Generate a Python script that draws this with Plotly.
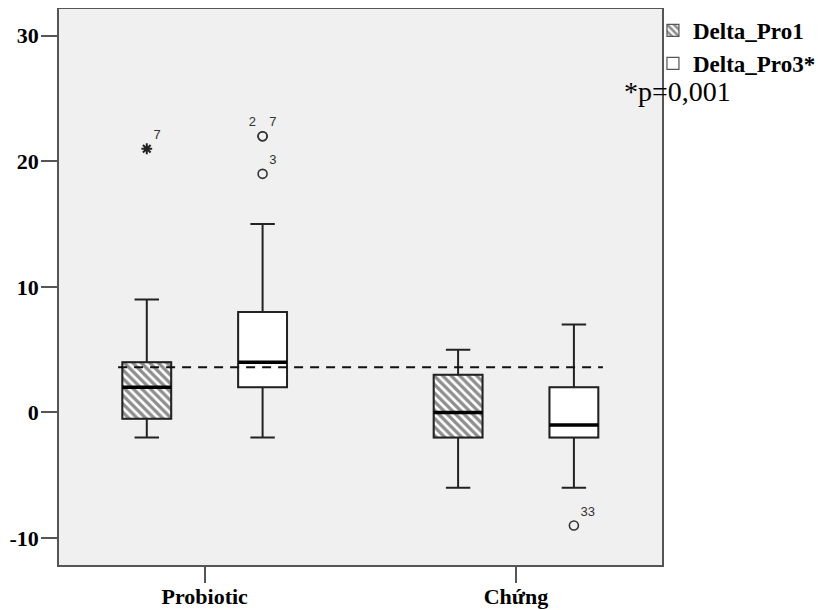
import plotly.graph_objects as go

# ---------------- data ----------------
groups = ["Probiotic", "Chứng"]

pro1_q1 = [-0.5, -2]
pro1_median = [2, 0]
pro1_q3 = [4, 3]
pro1_low = [-2, -6]
pro1_high = [9, 5]

pro3_q1 = [2, -2]
pro3_median = [4, -1]
pro3_q3 = [8, 2]
pro3_low = [-2, -6]
pro3_high = [15, 7]

pro1_out_x = ["Probiotic"]
pro1_out_y = [21]
pro1_out_case = ["7"]

pro3_out_x = ["Probiotic", "Probiotic", "Probiotic", "Chứng"]
pro3_out_y = [22, 22, 19, -9]
pro3_out_case = ["2", "7", "3", "33"]
pro3_out_pos = ["top left", "top right", "top right", "top right"]

ref_value = 3.6
y_ticks = [-10, 0, 10, 20, 30]
y_tick_labels = ["-10", "0", "10", "20", "30"]

series_names = ["Delta_Pro1", "Delta_Pro3*"]
note_text = "*p=0,001"

# ---------------- styling ----------------
GAP = 0.256
GROUPGAP = 0.578
EDGE = "#555555"
INK = "#222222"
SERIF = "Liberation Serif"
SANS = "Liberation Sans"

fig = go.Figure()

series = [
    dict(name=series_names[0], q1=pro1_q1, med=pro1_median, q3=pro1_q3,
         low=pro1_low, high=pro1_high, og="g1",
         pattern=dict(shape="\\", fgcolor="#1e1e1e", bgcolor="white",
                      size=6, solidity=0.55)),
    dict(name=series_names[1], q1=pro3_q1, med=pro3_median, q3=pro3_q3,
         low=pro3_low, high=pro3_high, og="g2",
         pattern=dict(shape="")),
]

# box bodies (bars from q1 to q3) – carry the legend and hatching
for s in series:
    fig.add_trace(go.Bar(
        x=groups,
        y=[b - a for a, b in zip(s["q1"], s["q3"])],
        base=s["q1"],
        name=s["name"],
        offsetgroup=s["og"], alignmentgroup="bars",
        marker=dict(color="white", pattern=s["pattern"],
                    line=dict(color=EDGE, width=1.2)),
        hoverinfo="skip",
    ))

# whiskers and box outlines
for s in series:
    fig.add_trace(go.Box(
        x=groups, q1=s["q1"], median=s["med"], q3=s["q3"],
        lowerfence=s["low"], upperfence=s["high"],
        offsetgroup=s["og"], alignmentgroup="boxes",
        fillcolor="rgba(0,0,0,0)", line=dict(color=INK, width=2),
        whiskerwidth=0.5, boxpoints=False, showlegend=False,
        hoverinfo="skip",
    ))

# thick median lines
for s in series:
    fig.add_trace(go.Box(
        x=groups, q1=s["med"], median=s["med"], q3=s["med"],
        lowerfence=s["med"], upperfence=s["med"],
        offsetgroup=s["og"], alignmentgroup="boxes",
        fillcolor="rgba(0,0,0,0)", line=dict(color="black", width=3.5),
        whiskerwidth=0, boxpoints=False, showlegend=False,
        hoverinfo="skip",
    ))

# outliers
fig.add_trace(go.Scatter(
    x=pro1_out_x, y=pro1_out_y, text=pro1_out_case,
    mode="markers+text", textposition="top right",
    offsetgroup="g1", alignmentgroup="pts",
    marker=dict(symbol="asterisk-open", size=9, color="#222222",
                line=dict(color="#222222", width=2)),
    textfont=dict(family=SANS, size=13, color="#333333"),
    showlegend=False, hoverinfo="skip",
))
fig.add_trace(go.Scatter(
    x=pro3_out_x, y=pro3_out_y, text=pro3_out_case,
    mode="markers+text", textposition=pro3_out_pos,
    offsetgroup="g2", alignmentgroup="pts",
    marker=dict(symbol="circle-open", size=9, color="#333333",
                line=dict(color="#333333", width=1.6)),
    textfont=dict(family=SANS, size=13, color="#333333"),
    showlegend=False, hoverinfo="skip",
))

# reference line
fig.add_shape(type="line", xref="paper", yref="y",
              x0=0.098, x1=0.902, y0=ref_value, y1=ref_value,
              line=dict(color="#111111", width=2, dash="9px,7px"),
              layer="above")

fig.add_annotation(text=note_text, xref="paper", yref="paper",
                   x=0.933, y=0.851, xanchor="left", yanchor="middle",
                   showarrow=False,
                   font=dict(family=SERIF, size=28, color="black"))

axis_common = dict(showline=True, linecolor=EDGE, linewidth=1.5,
                   mirror=True, ticks="outside", ticklen=16,
                   tickwidth=1.5, tickcolor=EDGE, showgrid=False,
                   zeroline=False, automargin=False,
                   tickfont=dict(family=SERIF, size=22, color="black",
                                 weight="bold"))

# the page body adds an 8px offset, so the figure is sized to fit the window
fig.update_layout(
    width=818, height=602,
    margin=dict(l=51, r=164, t=1, b=45),
    paper_bgcolor="white", plot_bgcolor="#f0f0f0",
    barmode="group", bargap=GAP, bargroupgap=GROUPGAP,
    boxmode="group", boxgap=GAP, boxgroupgap=GROUPGAP,
    scattermode="group", scattergap=GAP,
    legend=dict(x=0.985, y=1.0, xanchor="left", yanchor="top",
                bgcolor="rgba(0,0,0,0)", tracegroupgap=0,
                font=dict(family=SERIF, size=23, color="black",
                          weight="bold")),
    xaxis=dict(range=[-0.468, 1.469], ticklabelstandoff=-5,
               **axis_common),
    yaxis=dict(range=[-12.15, 32.13], tickvals=y_ticks,
               ticktext=y_tick_labels, ticklabelstandoff=-2,
               **axis_common),
)

fig.write_html("out.html")
